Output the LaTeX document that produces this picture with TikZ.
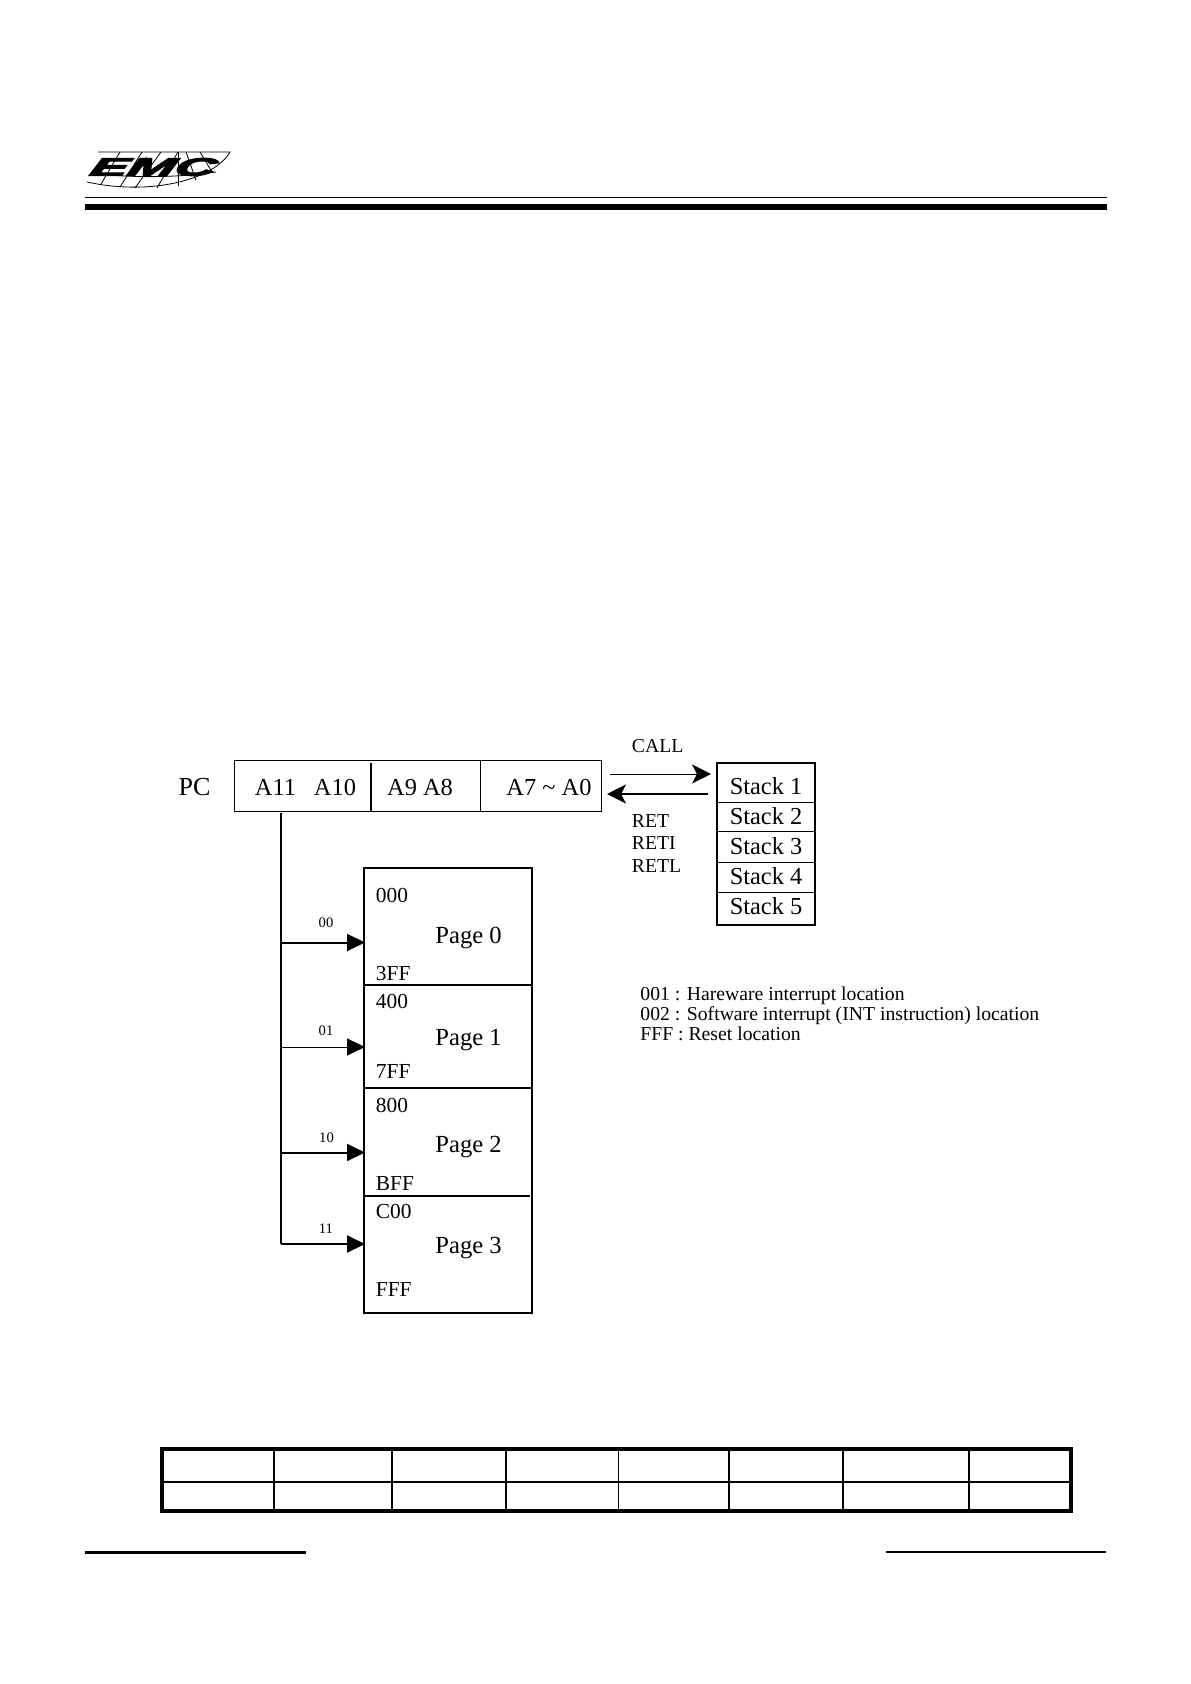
\documentclass[tikz,border=0pt]{standalone}
\usepackage{fontspec}
\setmainfont{Liberation Serif}
\newfontfamily\logofont{Liberation Sans}[BoldItalicFeatures={FakeBold=4,FakeSlant=0.15}]
\usetikzlibrary{arrows.meta,fit}
\tikzset{
  x=0.5pt,y=-0.5pt,
  thinbox/.style={draw,line width=0.5pt,inner sep=0pt,fit={#1}},
  medbox/.style={draw,line width=1pt,inner sep=0pt,fit={#1}},
  heavybox/.style={draw,line width=1.6pt,inner sep=0pt,fit={#1}},
  lab/.style={anchor=base west,inner sep=0pt,font=\fontsize{10.7pt}{12pt}\selectfont},
  big/.style={anchor=base,inner sep=0pt,font=\fontsize{12.2pt}{14pt}\selectfont},
  page/.style={anchor=base west,inner sep=0pt,font=\fontsize{12.3pt}{14pt}\selectfont},
  small/.style={anchor=base west,inner sep=0pt,font=\fontsize{9.85pt}{12pt}\selectfont},
  tiny/.style={anchor=center,inner sep=0pt,font=\fontsize{7.3pt}{9pt}\selectfont},
  arrowh/.style={-{Triangle[length=9pt,width=8.5pt]}},
  sarrow/.style={-{Stealth[length=9.5pt,width=9.5pt,inset=2.5pt]}},
  rule/.style={line width=#1,line cap=butt},
  grid/.style={line width=0.4pt},
}
\begin{document}
\begin{tikzpicture}
\useasboundingbox (0,0) rectangle (1190,1684);
% logo
\draw[grid] (98,152) -- (230,152) .. controls (214,180) and (150,196) .. (87,182);
\draw[grid] (91,173) .. controls (130,178) and (175,178) .. (216,172);
\draw[grid] (101,184) -- (120,152);
\draw[grid] (120,187) -- (142,152);
\draw[grid] (135,188) -- (161,152);
\draw[grid] (157,188) -- (178,152);
\draw[grid] (178,186) -- (178,152);
\draw[grid] (196,180) -- (186,152);
\draw[grid] (212,172) -- (200,152);
\node[anchor=center,inner sep=0pt] (logo) at (151,167) {\logofont\fontsize{12.5pt}{14pt}\selectfont\bfseries\itshape\scalebox{2.25}[1]{EMC}};
% header rules
\coordinate (hl) at (85,198); \coordinate (hr) at (1107,198);
\coordinate (tl) at (85,207); \coordinate (tr) at (1107,207);
\draw[rule=0.5pt] (hl) -- (hr);
\draw[rule=3pt] (tl) -- (tr);
% PC register
\node[anchor=base,inner sep=0pt,font=\fontsize{13pt}{14pt}\selectfont] (pclabel) at (194.5,795) {PC};
\node[thinbox={(234,760.5) (601.5,811)}] (pc) {};
\coordinate (d1t) at (371,763); \coordinate (d1b) at (371,811);
\coordinate (d2t) at (480.5,760.5); \coordinate (d2b) at (480.5,811);
\draw[line width=0.8pt] (d1t) -- (d1b);
\draw[line width=0.5pt] (d2t) -- (d2b);
\node[big] (a11) at (275.5,795) {A11};
\node[big] (a10) at (335,795) {A10};
\node[big] (a98) at (420,795) {A9 A8};
\node[big] (a70) at (549,795) {A7 \textasciitilde{} A0};
% stack
\node[medbox={(717,763) (815,925)}] (stack) {};
\coordinate (s1l) at (717,802); \coordinate (s1r) at (815,802);
\coordinate (s2l) at (717,831); \coordinate (s2r) at (815,831);
\coordinate (s3l) at (717,862.5); \coordinate (s3r) at (815,862.5);
\coordinate (s4l) at (717,892.5); \coordinate (s4r) at (815,892.5);
\draw[line width=0.5pt] (s1l) -- (s1r);
\draw[line width=0.5pt] (s2l) -- (s2r);
\draw[line width=0.8pt] (s3l) -- (s3r);
\draw[line width=0.8pt] (s4l) -- (s4r);
\node[big] (st1) at (766,794.5) {Stack 1};
\node[big] (st2) at (766,824.5) {Stack 2};
\node[big] (st3) at (766,854) {Stack 3};
\node[big] (st4) at (766,884) {Stack 4};
\node[big] (st5) at (766,914) {Stack 5};
% call / ret
\coordinate (cs) at (610,774); \coordinate (ce) at (711,774);
\coordinate (rs) at (708,794); \coordinate (re) at (607,794);
\draw[line width=0.5pt,sarrow] (cs) -- (ce);
\draw[line width=1pt,sarrow] (rs) -- (re);
\node[small] (call) at (631.5,752.5) {CALL};
\node[small] (ret) at (631.5,827.5) {RET};
\node[small] (reti) at (631.5,849.5) {RETI};
\node[small] (retl) at (631.5,872.5) {RETL};
% pages
\node[medbox={(363.5,868) (532,1312.5)}] (pages) {};
\coordinate (p0l) at (363.5,985); \coordinate (p0r) at (532,985);
\coordinate (p1l) at (365,1088); \coordinate (p1r) at (531,1088);
\coordinate (p2l) at (365,1196); \coordinate (p2r) at (529.5,1196);
\draw[line width=0.8pt] (p0l) -- (p0r);
\draw[line width=0.8pt] (p1l) -- (p1r);
\draw[line width=0.8pt] (p2l) -- (p2r);
\node[lab] (t000) at (375.5,902.5) {000};
\node[lab] (t3ff) at (375.5,980.5) {3FF};
\node[lab] (t400) at (375.5,1008.5) {400};
\node[lab] (t7ff) at (375.5,1078.5) {7FF};
\node[lab] (t800) at (375.5,1112.5) {800};
\node[lab] (tbff) at (375.5,1190) {BFF};
\node[lab] (tc00) at (375.5,1218.5) {C00};
\node[lab] (tfff) at (375.5,1296.5) {FFF};
\node[page] (pg0) at (435,943.5) {Page 0};
\node[page] (pg1) at (435,1045.5) {Page 1};
\node[page] (pg2) at (435,1152) {Page 2};
\node[page] (pg3) at (435,1253.5) {Page 3};
% bus
\coordinate (bt) at (281,813);
\coordinate (b0) at (281,942.5);
\coordinate (b1) at (281,1047);
\coordinate (b2) at (281,1152.5);
\coordinate (b3) at (281,1244);
\coordinate (h0) at (365,942.5);
\coordinate (h1) at (365,1047);
\coordinate (h2) at (365,1152.5);
\coordinate (h3) at (365,1244);
\draw[line width=1pt] (bt) -- (b3);
\draw[line width=1pt,arrowh] (b0) -- (h0);
\draw[line width=0.5pt,arrowh] (b1) -- (h1);
\draw[line width=1pt,arrowh] (b2) -- (h2);
\draw[line width=1pt,arrowh] (b3) -- (h3);
\node[tiny] (l00) at (326,922.5) {00};
\node[tiny] (l01) at (326,1031) {01};
\node[tiny] (l10) at (326.5,1137.5) {10};
\node[tiny] (l11) at (326,1229) {11};
% notes
\node[small] (n1) at (640,1000) {001 : Hareware interrupt location};
\node[small] (n2) at (640,1020) {002 : Software interrupt (INT instruction) location};
\node[small] (n3) at (640,1040) {FFF : Reset location};
% table
\node[heavybox={(162,1449) (1071,1511)}] (tbl) {};
\coordinate (tml) at (162,1481.5); \coordinate (tmr) at (1071,1481.5);
\draw[line width=1pt] (tml) -- (tmr);
\foreach \i/\xx/\w in {a/274/0.8,b/392/0.8,c/505.5/1,d/618.5/0.8,e/729/1,f/843/0.8,g/969/0.8}{
  \coordinate (v\i t) at (\xx,1449);
  \coordinate (v\i b) at (\xx,1511);
  \draw[line width=\w pt] (v\i t) -- (v\i b);
}
% footer
\coordinate (fl1) at (85,1552); \coordinate (fl2) at (306,1552);
\coordinate (fr1) at (886,1552); \coordinate (fr2) at (1106,1552);
\draw[rule=1.5pt] (fl1) -- (fl2);
\draw[rule=1pt] (fr1) -- (fr2);
\end{tikzpicture}
\end{document}
